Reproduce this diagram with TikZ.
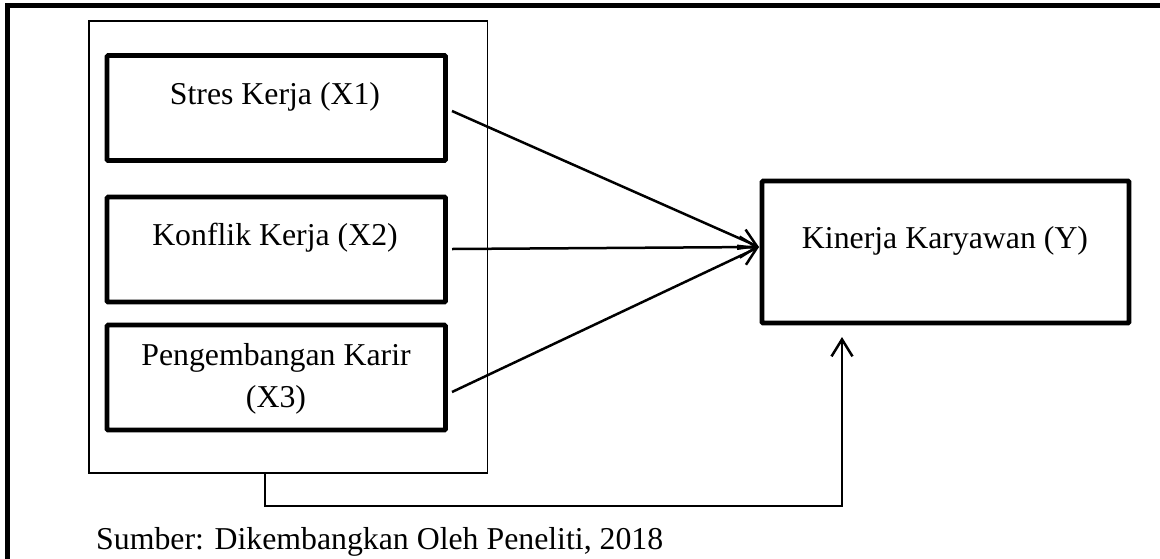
\documentclass[tikz,border=0pt]{standalone}
\usepackage{fontspec}
\setmainfont{Liberation Serif}
\usetikzlibrary{arrows.meta}
\begin{document}
\begin{tikzpicture}[x=1pt,y=-1pt,
  varbox/.style={draw, line width=4.6pt, rounded corners=1pt, minimum width=338.5pt, minimum height=105pt, inner sep=0pt},
  ybox/.style={draw, line width=4.6pt, rounded corners=1pt, minimum width=367pt, minimum height=142pt, inner sep=0pt},
  grpbox/.style={draw, line width=1.4pt, minimum width=398.5pt, minimum height=452pt, inner sep=0pt},
  lbl/.style={font=\fontsize{31.8}{41.5}\selectfont, inner sep=0pt, align=center},
  arr/.style={line width=2.5pt, -{Straight Barb[length=17pt,width=21pt,line width=2.5pt]}},
  link/.style={line width=1.8pt, -{Straight Barb[length=17pt,width=21pt,line width=2.5pt]}}
]
\useasboundingbox (0,0) rectangle (1160,558);
% outer frame (only top and left visible)
\draw[line width=5pt] (7.5,600) -- (7.5,5.7) -- (1170,5.7);
% group box
\node[grpbox] (grp) at (288.25,247) {};
% variable boxes
\node[varbox] (x1) at (276.25,108) {};
\node[varbox] (x2) at (276.25,249.5) {};
\node[varbox] (x3) at (276.25,377.5) {};
\node[ybox] (y) at (945.5,252) {};
% labels
\node[lbl, anchor=base] (x1t) at (275,104) {Stres Kerja (X1)};
\node[lbl, anchor=base] (x2t) at (275,245.5) {Konflik Kerja (X2)};
\node[lbl] (x3t) at (276,379) {Pengembangan Karir\\(X3)};
\node[lbl, anchor=base] (yt) at (945,248.3) {Kinerja Karyawan (Y)};
\node[lbl, anchor=base west] (src) at (96,549) {Sumber: Dikembangkan Oleh Peneliti, 2018};
% connectors
\coordinate (s1) at (452,111);
\coordinate (s2) at (452,249);
\coordinate (s3) at (452,392);
\coordinate (yin) at (759,247);
\draw[arr] (s1) -- (yin);
\draw[arr] (s2) -- (yin);
\draw[arr] (s3) -- (yin);
\coordinate (gout) at (grp.south -| 265,0);
\coordinate (yb) at (842,337);
\draw[link] (gout) -- ++(0,32) -| (yb);
\end{tikzpicture}
\end{document}
